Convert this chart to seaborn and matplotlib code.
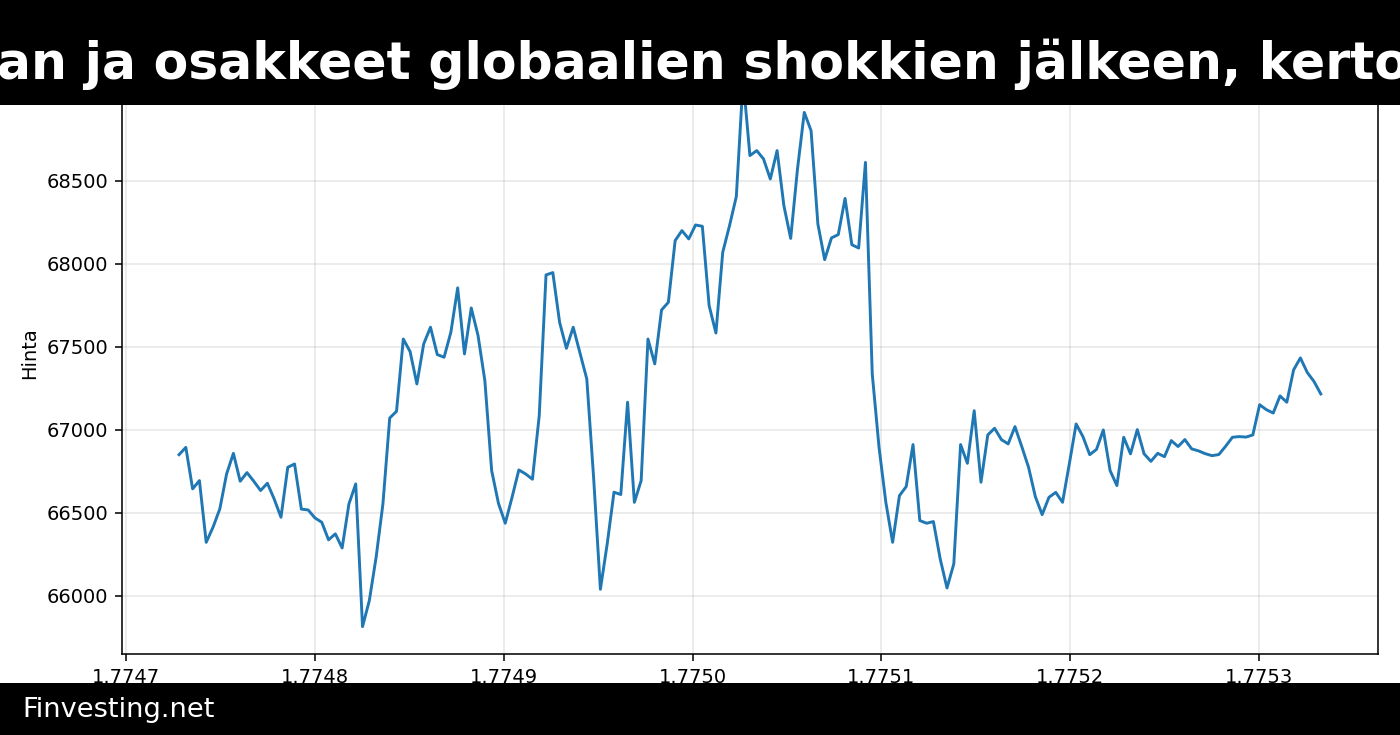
import numpy as np
import pandas as pd
import matplotlib
matplotlib.use("Agg")
import matplotlib.pyplot as plt
from matplotlib.patches import Rectangle
import seaborn as sns

# hourly timestamps (unix seconds), one week
start_ts = 1774728000
n_points = 169
timestamps = np.arange(start_ts, start_ts + n_points * 3600, 3600)

prices = [
    66849, 66893, 66643, 66693, 66321, 66412, 66522, 66733, 66857, 66689,
    66741, 66689, 66633, 66677, 66582, 66472, 66773, 66793, 66521, 66516,
    66468, 66442, 66336, 66372, 66287, 66552, 66673, 65813, 65970, 66231,
    66552, 67070, 67110, 67546, 67470, 67275, 67516, 67617, 67452, 67436,
    67587, 67854, 67456, 67733, 67566, 67295, 66753, 66556, 66436, 66592,
    66757, 66733, 66701, 67084, 67932, 67946, 67646, 67490, 67617, 67460,
    67305, 66713, 66038, 66311, 66623, 66609, 67165, 66562, 66693, 67546,
    67396, 67721, 67767, 68139, 68199, 68149, 68233, 68225, 67747, 67582,
    68068, 68229, 68404, 69110, 68651, 68681, 68631, 68510, 68681, 68349,
    68152, 68570, 68911, 68801, 68239, 68024, 68155, 68175, 68393, 68114,
    68094, 68610, 67336, 66893, 66562, 66321, 66602, 66657, 66910, 66452,
    66436, 66446, 66221, 66046, 66191, 66910, 66797, 67114, 66683, 66968,
    67008, 66940, 66914, 67018, 66898, 66773, 66596, 66488, 66592, 66622,
    66562, 66794, 67034, 66958, 66849, 66881, 66998, 66753, 66663, 66954,
    66854, 67000, 66854, 66809, 66857, 66837, 66934, 66898, 66940, 66884,
    66872, 66855, 66843, 66850, 66900, 66954, 66958, 66955, 66968, 67150,
    67120, 67100, 67203, 67165, 67360, 67432, 67345, 67290, 67215,
]

title_text = "an ja osakkeet globaalien shokkien jälkeen, kerto"
footer_text = "Finvesting.net"

df = pd.DataFrame({"Aika": timestamps, "Hinta": prices})

fig = plt.figure(figsize=(10, 5.25), dpi=140)
ax = fig.add_axes([0.0871, 0.1102, 0.8971, 0.819])
sns.lineplot(data=df, x="Aika", y="Hinta", ax=ax, color="#1f77b4", linewidth=1.5)
ax.grid(True, alpha=0.3)
ax.set_xlabel("")

# header and footer bars
fig.add_artist(Rectangle((0, 1 - 105 / 735), 1, 105 / 735, transform=fig.transFigure,
                         facecolor="black", edgecolor="none", zorder=5))
fig.add_artist(Rectangle((0, 0), 1, 52 / 735, transform=fig.transFigure,
                         facecolor="black", edgecolor="none", zorder=5))
fig.text(-0.002, 1 - 79 / 735, title_text, color="white", fontsize=26,
         fontweight="bold", ha="left", va="baseline", zorder=6)
fig.text(22 / 1400, 18 / 735, footer_text, color="white", fontsize=14,
         ha="left", va="baseline", zorder=6)

fig.savefig("out.png", dpi=140)
